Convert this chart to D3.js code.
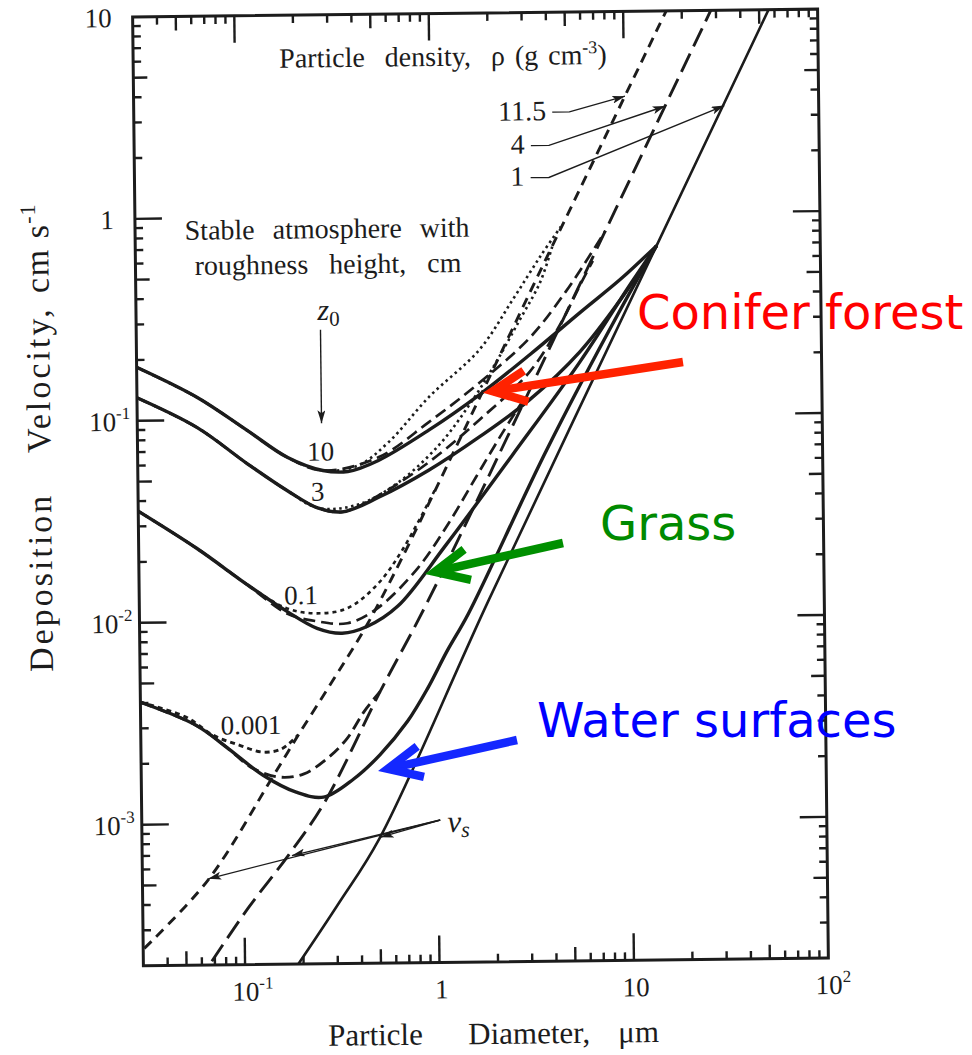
<!DOCTYPE html>
<html>
<head>
<meta charset="utf-8">
<script src="https://cdn.jsdelivr.net/npm/d3@7"></script>
<style>
  body { margin: 0; background: #fff; }
  text { font-family: "Liberation Serif", "Times New Roman", serif; fill: #1c1c1c; }
  .note { font-family: "DejaVu Sans", Verdana, sans-serif; font-size: 48px; }
</style>
</head>
<body>
<svg id="chart" width="972" height="1055"></svg>
<script>
// values: [particle diameter (um), deposition velocity (cm/s)]
// settling velocity v_s for each particle density
var settleRho1  = [[0.188,2.0e-4],[0.307,4.0e-4],[0.50,8.3e-4],[1.875,0.0123],[14.4,0.689],[56.5,10.2]];
var settleRho4  = [[0.0675,2.09e-4],[0.1047,3.82e-4],[0.1706,6.98e-4],[0.262,1.26e-3],[0.514,4.43e-3],[0.916,0.01235],[7.86,0.82],[28.6,10.26]];
var settleRho11 = [[0.0304,2.44e-4],[0.0654,5.29e-4],[0.143,1.71e-3],[0.194,2.73e-3],[0.298,5.16e-3],[0.486,0.01107],[4.2,0.70],[16.9,10.3]];

// z0 = 10 cm
var z10Rho1  = [[0.03,0.184],[0.0613,0.1294],[0.1106,0.0881],[0.1774,0.0645],[0.2685,0.0554],[0.361,0.0546],[0.519,0.0617],[0.946,0.0866],[1.73,0.1287],[3.17,0.2024],[5.80,0.326],[9.4,0.474],[14.4,0.689]];
var z10Rho4  = [[0.03,0.184],[0.0613,0.1294],[0.1106,0.0881],[0.1774,0.0645],[0.2685,0.0554],[0.519,0.0639],[0.948,0.0949],[1.734,0.1476],[3.18,0.246],[4.86,0.4103],[6.6,0.6327],[7.86,0.82]];
var z10Rho11 = [[0.03,0.184],[0.0613,0.1294],[0.1106,0.0881],[0.1774,0.0645],[0.2685,0.0554],[0.408,0.0584],[0.586,0.0758],[0.953,0.1264],[1.744,0.2156],[2.61,0.3808],[3.64,0.6215],[4.64,0.8646]];
// z0 = 3 cm
var z3Rho1  = [[0.03,0.130],[0.0610,0.0918],[0.110,0.0604],[0.176,0.0442],[0.251,0.0362],[0.338,0.0345],[0.515,0.0404],[0.940,0.0548],[1.72,0.0796],[3.14,0.121],[5.75,0.2085],[9.37,0.3767],[14.4,0.689]];
var z3Rho4  = [[0.03,0.130],[0.0610,0.0918],[0.110,0.0604],[0.176,0.0442],[0.251,0.0362],[0.338,0.0345],[0.515,0.0413],[0.941,0.0600],[1.723,0.0966],[3.155,0.1666],[4.556,0.2845],[5.825,0.449],[6.752,0.5838]];
var z3Rho11 = [[0.03,0.130],[0.0610,0.0918],[0.110,0.0604],[0.176,0.0442],[0.251,0.0362],[0.4055,0.0374],[0.6556,0.0479],[1.065,0.0729],[1.535,0.1149],[2.083,0.1811],[2.83,0.3027],[3.61,0.4614],[4.2,0.70]];
// z0 = 0.1 cm
var z01Rho1  = [[0.03,0.0357],[0.0596,0.0232],[0.1074,0.01528],[0.1722,0.01117],[0.2455,0.00917],[0.330,0.00864],[0.4465,0.00933],[0.641,0.0117],[1.135,0.02316],[2.54,0.0645],[5.74,0.1859],[10.58,0.4498],[14.4,0.689]];
var z01Rho4  = [[0.03,0.0357],[0.0596,0.0232],[0.1074,0.01528],[0.1722,0.01091],[0.246,0.00993],[0.3516,0.00968],[0.5045,0.01146],[0.818,0.01805],[1.18,0.0298],[1.643,0.0503],[2.262,0.0831],[2.92,0.121]];
var z01Rho11 = [[0.03,0.0357],[0.0596,0.0232],[0.1074,0.01528],[0.1722,0.01156],[0.246,0.01088],[0.3525,0.01149],[0.507,0.01509],[0.687,0.02247],[1.006,0.0435]];
// z0 = 0.001 cm
var z0001Rho1  = [[0.03,0.00404],[0.0576,0.00309],[0.085,0.00234],[0.127,0.00173],[0.1875,0.00142],[0.259,0.001337],[0.371,0.001638],[0.508,0.00215],[0.706,0.00313],[0.902,0.00456],[1.14,0.00695],[1.475,0.01062],[3.81,0.068],[9.34,0.336],[14.4,0.689]];
var z0001Rho4  = [[0.03,0.00404],[0.0576,0.00309],[0.085,0.00234],[0.110,0.0019],[0.1536,0.00169],[0.2046,0.001744],[0.270,0.002065],[0.344,0.002593],[0.4236,0.003526],[0.514,0.00443]];
var z0001Rho11 = [[0.03,0.00404],[0.0513,0.00339],[0.0706,0.00275],[0.096,0.002446],[0.1275,0.002252],[0.1583,0.002328],[0.194,0.00273]];

var xTickValues = [0.1, 1, 10, 100];
var xTickLabels = [["10","-1"],["1",""],["10",""],["10","2"]];
var yTickValues = [0.001, 0.01, 0.1, 1, 10];
var yTickLabels = [["10","-3"],["10","-2"],["10","-1"],["1",""],["10",""]];
var densities = ["11.5", "4", "1"];
var roughness = ["10", "3", "0.1", "0.001"];

var W = 972, H = 1055;
var frame = {left: 138, right: 823, top: 13, bottom: 962};
var x = d3.scaleLog().domain([0.03, 100]).range([frame.left, frame.right]);
var y = d3.scaleLog().domain([2e-4, 10]).range([frame.bottom, frame.top]);

var svg = d3.select("#chart");
svg.append("rect").attr("width", W).attr("height", H).attr("fill", "#fff");

var defs = svg.append("defs");
defs.append("marker")
    .attr("id", "head")
    .attr("viewBox", "0 0 13 8")
    .attr("refX", 13).attr("refY", 4)
    .attr("markerWidth", 13).attr("markerHeight", 8)
    .attr("markerUnits", "userSpaceOnUse")
    .attr("orient", "auto")
  .append("path")
    .attr("d", "M0,0L13,4L0,8L3,4Z")
    .attr("fill", "#1c1c1c");
defs.append("clipPath").attr("id", "plot")
  .append("rect")
    .attr("x", frame.left).attr("y", frame.top)
    .attr("width", frame.right - frame.left)
    .attr("height", frame.bottom - frame.top);

// the scan is turned a little; draw the whole figure turned the same way
var tilt = -0.65, cx = 480, cy = 488;
var g = svg.append("g").attr("transform", "rotate(" + tilt + "," + cx + "," + cy + ")");

var line = d3.line()
    .x(function(d) { return x(d[0]); })
    .y(function(d) { return y(d[1]); })
    .curve(d3.curveCatmullRom.alpha(0.5));

var series = [
  {data: settleRho1,  dash: null,    w: 2.6},
  {data: settleRho4,  dash: "20,8",  w: 2.9},
  {data: settleRho11, dash: "10,7",  w: 2.9},
  {data: z10Rho11,    dash: "2.5,3.5", w: 2.6},
  {data: z10Rho4,     dash: "12,6",  w: 2.7},
  {data: z10Rho1,     dash: null,    w: 3.4},
  {data: z3Rho11,     dash: "2.5,3.5", w: 2.6},
  {data: z3Rho4,      dash: "12,6",  w: 2.7},
  {data: z3Rho1,      dash: null,    w: 3.4},
  {data: z01Rho11,    dash: "4,4",   w: 2.6},
  {data: z01Rho4,     dash: "12,6",  w: 2.7},
  {data: z01Rho1,     dash: null,    w: 3.4},
  {data: z0001Rho11,  dash: "5,4",   w: 2.9},
  {data: z0001Rho4,   dash: "12,6",  w: 2.9},
  {data: z0001Rho1,   dash: null,    w: 3.4}
];

var curves = g.append("g").attr("clip-path", "url(#plot)");
series.forEach(function(s) {
  curves.append("path")
      .datum(s.data)
      .attr("d", line)
      .attr("fill", "none")
      .attr("stroke", "#1c1c1c")
      .attr("stroke-width", s.w)
      .attr("stroke-dasharray", s.dash);
});

// frame and ticks on all four sides
g.append("rect")
    .attr("x", frame.left).attr("y", frame.top)
    .attr("width", frame.right - frame.left)
    .attr("height", frame.bottom - frame.top)
    .attr("fill", "none").attr("stroke", "#1c1c1c").attr("stroke-width", 3);

function mantissa(t) { return Math.round(t / Math.pow(10, Math.floor(Math.log10(t) + 1e-9))); }
function tickLen(t) { var m = mantissa(t); return m === 1 ? 27 : (m === 5 ? 14 : 8); }

var ticks = g.append("g").attr("stroke", "#1c1c1c").attr("stroke-width", 2.4);
x.ticks().filter(function(t) { return t > 0.0301 && t < 99.9; }).forEach(function(t) {
  var px = x(t), len = tickLen(t);
  ticks.append("line").attr("x1", px).attr("x2", px).attr("y1", frame.bottom).attr("y2", frame.bottom - len);
  ticks.append("line").attr("x1", px).attr("x2", px).attr("y1", frame.top).attr("y2", frame.top + len);
});
y.ticks().filter(function(t) { return t > 2.01e-4 && t < 9.99; }).forEach(function(t) {
  var py = y(t), len = tickLen(t);
  ticks.append("line").attr("y1", py).attr("y2", py).attr("x1", frame.left).attr("x2", frame.left + len);
  ticks.append("line").attr("y1", py).attr("y2", py).attr("x1", frame.right).attr("x2", frame.right - len);
});

// tick labels
xTickValues.forEach(function(t, i) {
  var lab = xTickLabels[i];
  var tx = g.append("text").attr("y", frame.bottom + 36).attr("font-size", 27);
  if (lab[1]) tx.attr("x", x(t) - 13).attr("text-anchor", "start");
  else tx.attr("x", x(t) + 2).attr("text-anchor", "middle");
  tx.append("tspan").text(lab[0]);
  if (lab[1]) tx.append("tspan").attr("font-size", 17).attr("dy", -12).text(lab[1]);
});
yTickValues.forEach(function(t, i) {
  var lab = yTickLabels[i];
  var tx = g.append("text")
      .attr("x", frame.left - (lab[1] ? 7 : 21))
      .attr("y", y(t) + 10)
      .attr("font-size", 27)
      .attr("text-anchor", "end");
  tx.append("tspan").text(lab[0]);
  if (lab[1]) tx.append("tspan").attr("font-size", 17).attr("dy", -12).text(lab[1]);
});

// axis titles
var xTitle = g.append("text").attr("y", 1044).attr("font-size", 31);
xTitle.append("tspan").attr("x", 322).text("Particle");
xTitle.append("tspan").attr("x", 462).text("Diameter,");
xTitle.append("tspan").attr("x", 612).text("\u03bcm");

var yTitle = g.append("text")
    .attr("transform", "translate(51,0) rotate(-90)")
    .attr("font-size", 34)
    .attr("letter-spacing", 3);
yTitle.append("tspan").attr("x", -667).text("Deposition");
yTitle.append("tspan").attr("x", -448).text("Velocity,");
yTitle.append("tspan").attr("x", -288).attr("letter-spacing", 1.5).text("cm s");
yTitle.append("tspan").attr("font-size", 22).attr("dy", -13).attr("letter-spacing", 1).text("-1");

// annotations inside the plot
function at(p) { return [x(p[0]), y(p[1])]; }

var t1 = at([0.054, 0.7823]);
g.append("text").attr("x", t1[0]).attr("y", t1[1]).attr("font-size", 28).attr("word-spacing", 11)
    .text("Stable atmosphere with");
var t2 = at([0.0605, 0.5234]);
g.append("text").attr("x", t2[0]).attr("y", t2[1]).attr("font-size", 28).attr("word-spacing", 14)
    .text("roughness height, cm");

var t3 = at([0.1693, 5.5]);
var pd = g.append("text").attr("x", t3[0]).attr("y", t3[1]).attr("font-size", 28);
pd.append("tspan").attr("word-spacing", 13).text("Particle density, ");
pd.append("tspan").attr("word-spacing", 3).text("\u03c1 (g cm");
pd.append("tspan").attr("font-size", 18).attr("dy", -11).text("-3");
pd.append("tspan").attr("dy", 11).text(")");

// density labels with leaders to the settling lines
var densityLabelAt = [[3.96, 2.92], [3.06, 2.0], [3.04, 1.388]];
var densityLeader = [
  [[4.26, 3.2], [5.22, 3.2], [10.1, 3.8]],
  [[3.293, 2.19], [4.08, 2.19], [16.3, 3.38]],
  [[3.27, 1.52], [4.06, 1.52], [32.7, 3.37]]
];
var straight = d3.line().x(function(d) { return x(d[0]); }).y(function(d) { return y(d[1]); });
densities.forEach(function(lab, i) {
  var p = at(densityLabelAt[i]);
  g.append("text").attr("x", p[0]).attr("y", p[1]).attr("font-size", 28).attr("text-anchor", "end").text(lab);
  g.append("path").datum(densityLeader[i]).attr("d", straight)
      .attr("fill", "none").attr("stroke", "#1c1c1c").attr("stroke-width", 1.4)
      .attr("marker-end", "url(#head)");
});

// roughness labels on the curves
var roughnessLabelAt = [[0.2625, 0.0621], [0.2515, 0.0393], [0.2039, 0.0121], [0.1109, 0.00277]];
roughness.forEach(function(lab, i) {
  var p = at(roughnessLabelAt[i]);
  g.append("text").attr("x", p[0]).attr("y", p[1]).attr("font-size", 27).attr("text-anchor", "middle").text(lab);
});

// z0 with its arrow
var zp = at([0.2934, 0.3084]);
var zt = g.append("text").attr("x", zp[0]).attr("y", zp[1]).attr("font-size", 30).attr("text-anchor", "middle");
zt.append("tspan").attr("font-style", "italic").text("z");
zt.append("tspan").attr("font-size", 21).attr("dy", 6).text("0");
g.append("path").datum([[0.266, 0.2754], [0.266, 0.0949]]).attr("d", straight)
    .attr("stroke", "#1c1c1c").attr("stroke-width", 1.4).attr("marker-end", "url(#head)");

// v_s with leaders to the three settling lines
var vp = at([1.119, 8.84e-4]);
var vt = g.append("text").attr("x", vp[0]).attr("y", vp[1]).attr("font-size", 31).attr("font-style", "italic");
vt.append("tspan").text("v");
vt.append("tspan").attr("font-size", 22).attr("dy", 5).text("s");
var vsStart = [1.028, 1.015e-3];
var vsTips = [[0.5066, 8.41e-4], [0.1767, 6.9e-4], [0.0654, 5.35e-4]];
vsTips.forEach(function(tp) {
  g.append("path").datum([vsStart, tp]).attr("d", straight)
      .attr("stroke", "#1c1c1c").attr("stroke-width", 1.3).attr("marker-end", "url(#head)");
});

// coloured call-outs laid over the figure (not tilted)
var callouts = [
  {text: "Conifer forest", at: [11.05, 0.2724], color: "#ff0000", arrow: "#ff2200", tail: [19.05, 0.187], tip: [1.892, 0.1328]},
  {text: "Grass", at: [7.13, 0.02458], color: "#008a00", arrow: "#008f00", tail: [4.6, 0.02375], tip: [0.952, 0.01687]},
  {text: "Water surfaces", at: [3.38, 0.0026], color: "#0000ff", arrow: "#1428ff", tail: [2.668, 0.002514], tip: [0.5458, 0.001786]}
];
callouts.forEach(function(c) {
  var p = at(c.at);
  svg.append("text").attr("class", "note").attr("x", p[0]).attr("y", p[1])
      .style("fill", c.color).text(c.text);
  var a = at(c.tail), b = at(c.tip);
  var ang = Math.atan2(a[1] - b[1], a[0] - b[0]);
  var vx = b[0] + 5 * Math.cos(ang), vy = b[1] + 5 * Math.sin(ang);
  var L = 37, spread = 25 * Math.PI / 180;
  svg.append("line")
      .attr("x1", a[0]).attr("y1", a[1]).attr("x2", vx).attr("y2", vy)
      .attr("stroke", c.arrow).attr("stroke-width", 8.5);
  svg.append("path")
      .attr("d", "M" + (vx + L * Math.cos(ang - spread)) + "," + (vy + L * Math.sin(ang - spread)) +
                 "L" + vx + "," + vy +
                 "L" + (vx + L * Math.cos(ang + spread)) + "," + (vy + L * Math.sin(ang + spread)))
      .attr("fill", "none").attr("stroke", c.arrow).attr("stroke-width", 8.5)
      .attr("stroke-linejoin", "miter");
});
</script>
</body>
</html>
